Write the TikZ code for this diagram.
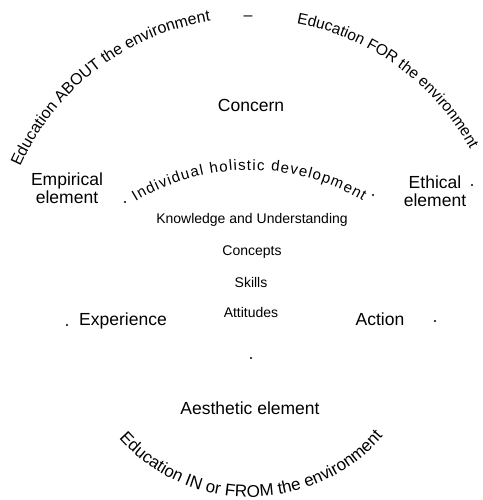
\documentclass[tikz,border=0pt]{standalone}
\usepackage{fontspec}
\setmainfont{Liberation Sans}
\usetikzlibrary{decorations.text}
\begin{document}
\begin{tikzpicture}[x=1pt,y=1pt,
  big/.style={font=\fontsize{17.5}{18}\selectfont, inner sep=0pt, align=center},
  small/.style={font=\fontsize{14}{16}\selectfont, inner sep=0pt},
  speck/.style={fill=black}]
\useasboundingbox (0,0) rectangle (482,-500);
% outer arcs
\coordinate (top) at (250,-270);
\path[decorate, decoration={text along path, text align=center,
   text={|\fontsize{16}{18}\selectfont|Education ABOUT the environment}}]
   (top) ++(156.5:252) arc[start angle=156.5, end angle=98.3, radius=252];
\path[decorate, decoration={text along path, text align=center,
   text={|\fontsize{15.5}{18}\selectfont|Education FOR the environment}}]
   (top) ++(80:251) arc[start angle=80, end angle=28, radius=251];
\node[font=\fontsize{16}{18}\selectfont, inner sep=0pt] (dash) at (248,-18) {–};
% middle arc
\coordinate (mid) at (250,-392);
\path[decorate, decoration={text along path, text align=fit to path,
   text={|\fontsize{15}{18}\selectfont|Individual holistic development}}]
   (mid) ++(121:222) arc[start angle=121, end angle=59.5, radius=222];
% bottom arc
\coordinate (bot) at (250,-321);
\path[decorate, decoration={text along path, text align=center,
   text={|\fontsize{17}{18}\selectfont|Education IN or FROM the environment}}]
   (bot) ++(219:176) arc[start angle=219, end angle=322, radius=176];
% labels
\node[big, anchor=base] (concern) at (251,-111) {Concern};
\node[big] (emp) at (67,-188) {Empirical\\element};
\node[big] (eth) at (435,-191) {Ethical\\element};
\node[small, anchor=base] (know) at (252,-223) {Knowledge and Understanding};
\node[small, anchor=base] (conc) at (252,-255) {Concepts};
\node[small, anchor=base] (skills) at (251,-287) {Skills};
\node[small, anchor=base] (att) at (251,-317) {Attitudes};
\node[big, anchor=base] (exp) at (123,-325) {Experience};
\node[big, anchor=base] (act) at (380,-325) {Action};
\node[big, anchor=base] (aes) at (250,-414) {Aesthetic element};
% specks
\fill[speck] (125,-202) circle (1.2);
\fill[speck] (373,-195) circle (1.2);
\fill[speck] (67,-325) circle (1.2);
\fill[speck] (435,-321) circle (1.2);
\fill[speck] (251,-358) circle (1.2);
\fill[speck] (472,-185) circle (1.2);
\end{tikzpicture}
\end{document}
